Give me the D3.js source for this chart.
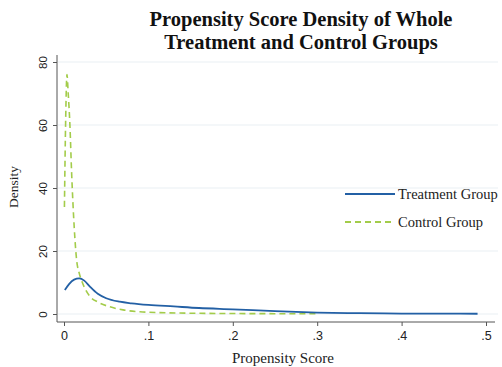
<!DOCTYPE html>
<html>
<head>
<meta charset="utf-8">
<script src="https://cdn.jsdelivr.net/npm/d3@7"></script>
<style>
  body { margin: 0; background: #fff; }
  svg { display: block; }
</style>
</head>
<body>
<div id="chart"></div>
<script>
// values
const treatmentX = [0.001, 0.006, 0.012, 0.018, 0.024, 0.031, 0.04, 0.05, 0.066, 0.08, 0.1, 0.13, 0.16, 0.2, 0.25, 0.3, 0.35, 0.4, 0.45, 0.49];
const treatmentY = [7.6, 9.5, 10.9, 11.3, 10.6, 8.6, 6.4, 5.0, 3.9, 3.4, 2.9, 2.4, 1.9, 1.5, 0.9, 0.45, 0.25, 0.15, 0.1, 0.08];
const controlX = [0.0005, 0.002, 0.0035, 0.005, 0.007, 0.009, 0.012, 0.015, 0.018, 0.021, 0.026, 0.031, 0.04, 0.054, 0.07, 0.09, 0.12, 0.15, 0.2, 0.25, 0.3];
const controlY = [34, 62, 76, 70, 60, 45, 28, 17, 13, 10.5, 7.5, 5.5, 3.8, 2.3, 1.3, 0.7, 0.4, 0.25, 0.15, 0.1, 0.08];
const yTicks = [0, 20, 40, 60, 80];
const xTicks = [0, 0.1, 0.2, 0.3, 0.4, 0.5];
const xTickLabels = ["0", ".1", ".2", ".3", ".4", ".5"];
const seriesNames = ["Treatment Group", "Control Group"];

const width = 502, height = 367;
const svg = d3.select("#chart").append("svg")
    .attr("width", width)
    .attr("height", height);

// scales
const x = d3.scaleLinear().domain([0, 0.5]).range([64, 486]);
const y = d3.scaleLinear().domain([0, 80]).range([314, 62]);

// gridlines
svg.append("g")
    .selectAll("line")
    .data(yTicks)
    .join("line")
    .attr("x1", 58).attr("x2", 498)
    .attr("y1", d => y(d)).attr("y2", d => y(d))
    .attr("stroke", "#e9eff3")
    .attr("stroke-width", 1);

// y axis
const yAxis = svg.append("g")
    .attr("transform", "translate(57,0)")
    .call(d3.axisLeft(y).tickValues(yTicks).tickSize(4).tickSizeOuter(0));
yAxis.select(".domain").attr("d", "M0,55V322").attr("stroke", "#555");
yAxis.selectAll(".tick line").attr("stroke", "#555");
yAxis.selectAll(".tick text")
    .attr("transform", "rotate(-90)")
    .attr("x", 0).attr("y", -14).attr("dy", "0.35em")
    .attr("text-anchor", "middle")
    .style("font-family", "Liberation Sans, Arial, sans-serif")
    .style("font-size", "11.5px")
    .attr("fill", "#222");

// x axis
const xAxis = svg.append("g")
    .attr("transform", "translate(0,322)")
    .call(d3.axisBottom(x).tickValues(xTicks).tickFormat((d, i) => xTickLabels[i]).tickSize(4).tickSizeOuter(0));
xAxis.select(".domain").attr("d", "M57,0H495").attr("stroke", "#555");
xAxis.selectAll(".tick line").attr("stroke", "#555");
xAxis.selectAll(".tick text")
    .attr("y", 9)
    .style("font-family", "Liberation Sans, Arial, sans-serif")
    .style("font-size", "12.5px")
    .attr("fill", "#222");

// lines
const line = d3.line()
    .x(d => x(d[0]))
    .y(d => y(d[1]))
    .curve(d3.curveMonotoneX);

const controlData = controlX.map((v, i) => [v, controlY[i]]);
const treatmentData = treatmentX.map((v, i) => [v, treatmentY[i]]);

svg.append("path")
    .datum(controlData)
    .attr("d", line)
    .attr("fill", "none")
    .attr("stroke", "#a3cc4a")
    .attr("stroke-width", 1.6)
    .attr("stroke-dasharray", "6,4");

svg.append("path")
    .datum(treatmentData)
    .attr("d", line)
    .attr("fill", "none")
    .attr("stroke", "#2360a5")
    .attr("stroke-width", 1.8);

// title
const title = svg.append("text")
    .attr("text-anchor", "middle")
    .style("font-family", "Liberation Serif, Times New Roman, serif")
    .style("font-weight", "bold")
    .style("font-size", "20.5px")
    .attr("fill", "#111");
title.append("tspan").attr("x", 301).attr("y", 26).text("Propensity Score Density of Whole");
title.append("tspan").attr("x", 301).attr("y", 49).text("Treatment and Control Groups");

// axis labels
svg.append("text")
    .attr("transform", "translate(18,187) rotate(-90)")
    .attr("text-anchor", "middle")
    .style("font-family", "Liberation Serif, Times New Roman, serif")
    .style("font-size", "13.5px")
    .attr("fill", "#222")
    .text("Density");

svg.append("text")
    .attr("x", 283).attr("y", 363)
    .attr("text-anchor", "middle")
    .style("font-family", "Liberation Serif, Times New Roman, serif")
    .style("font-size", "15px")
    .attr("fill", "#222")
    .text("Propensity Score");

// legend
const legend = svg.append("g");
const legendRows = [
    { name: seriesNames[0], color: "#2360a5", dash: null, y: 194 },
    { name: seriesNames[1], color: "#a3cc4a", dash: "6,4", y: 222 }
];
legendRows.forEach(r => {
    legend.append("line")
        .attr("x1", 345).attr("x2", 395)
        .attr("y1", r.y).attr("y2", r.y)
        .attr("stroke", r.color)
        .attr("stroke-width", 1.8)
        .attr("stroke-dasharray", r.dash);
    legend.append("text")
        .attr("x", 398).attr("y", r.y).attr("dy", "0.35em")
        .style("font-family", "Liberation Serif, Times New Roman, serif")
        .style("font-size", "14.5px")
        .attr("fill", "#222")
        .text(r.name);
});
</script>
</body>
</html>
